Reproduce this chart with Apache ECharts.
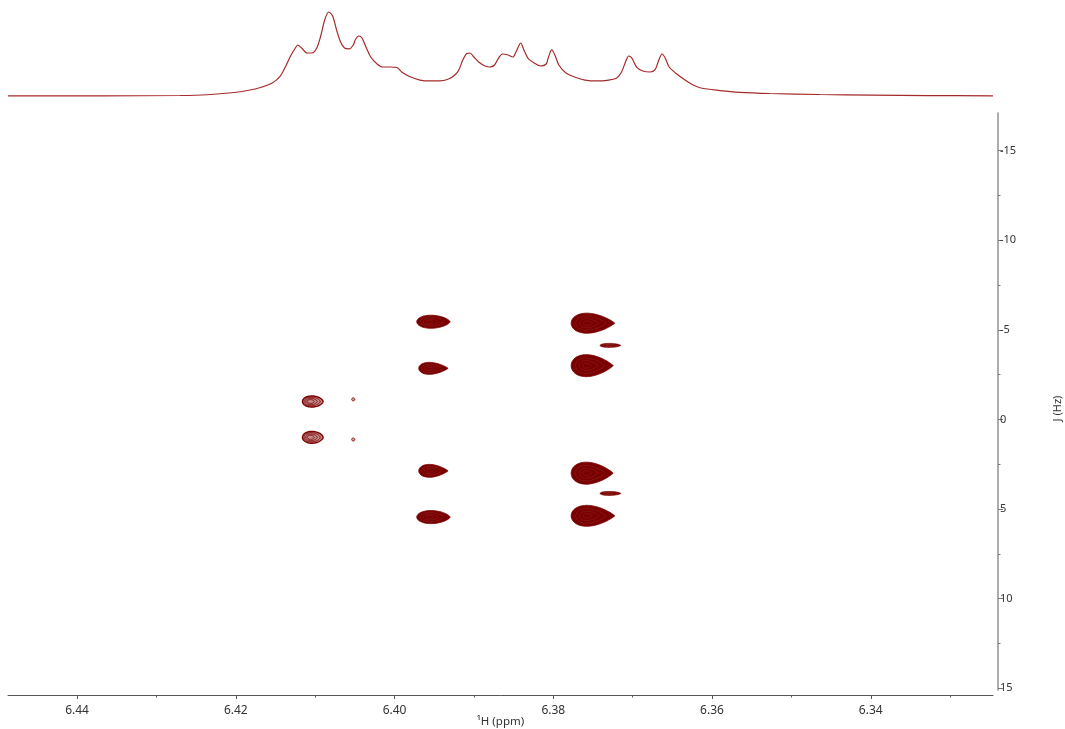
<!DOCTYPE html>
<html>
<head>
<meta charset="utf-8">
<title>J-resolved spectrum</title>
<script src="https://cdn.jsdelivr.net/npm/echarts@6/dist/echarts.min.js"></script>
<style>
  html, body { margin: 0; padding: 0; background: #ffffff; }
  #chart { width: 1065px; height: 729px; }
</style>
</head>
<body>
<div id="chart"></div>
<script>
// ---- 1D 1H trace shown above the 2D map (ppm, relative intensity) ----
const tracePpm = [
  6.4487, 6.4371, 6.4270, 6.4236, 6.4202, 6.4182, 6.4167, 6.4154, 6.4144, 6.4137,
  6.4131, 6.4125, 6.4122, 6.4117, 6.4110, 6.4104, 6.4098, 6.4093, 6.4088, 6.4083,
  6.4078, 6.4073, 6.4068, 6.4063, 6.4057, 6.4052, 6.4049, 6.4045, 6.4041, 6.4036,
  6.4030, 6.4022, 6.4015, 6.4005, 6.3997, 6.3991, 6.3981, 6.3968, 6.3955, 6.3943,
  6.3932, 6.3924, 6.3919, 6.3914, 6.3909, 6.3905, 6.3900, 6.3894, 6.3886, 6.3880,
  6.3874, 6.3869, 6.3864, 6.3857, 6.3851, 6.3847, 6.3843, 6.3841, 6.3837, 6.3832,
  6.3824, 6.3816, 6.3809, 6.3806, 6.3802, 6.3798, 6.3793, 6.3784, 6.3773, 6.3760,
  6.3745, 6.3730, 6.3720, 6.3714, 6.3709, 6.3705, 6.3701, 6.3695, 6.3687, 6.3678,
  6.3672, 6.3667, 6.3663, 6.3659, 6.3654, 6.3646, 6.3634, 6.3625, 6.3614, 6.3590,
  6.3565, 6.3527, 6.3464, 6.3399, 6.3326, 6.3246
];
const traceIntensity = [
  0.2, 0.2, 0.6, 1.5, 4.2, 7.1, 10.7, 15.5, 23.8, 35.7,
  47.6, 57.1, 60.7, 57.1, 51.2, 51.2, 57.1, 71.4, 90.5, 100,
  95.2, 78.6, 64.3, 57.1, 56.0, 60.7, 67.9, 71.4, 69.0, 58.3,
  46.4, 38.1, 34.5, 34.5, 33.9, 28.6, 23.2, 19.0, 17.9, 17.9,
  20.2, 25.0, 31.0, 42.9, 50.6, 51.2, 46.4, 40.5, 35.7, 34.5,
  36.9, 45.2, 50.0, 48.8, 46.4, 52.4, 60.7, 63.1, 54.8, 45.2,
  39.3, 35.7, 38.1, 46.4, 54.8, 48.8, 36.9, 27.4, 22.6, 19.0,
  17.9, 19.0, 21.4, 28.6, 40.5, 47.6, 45.2, 34.5, 29.8, 28.6,
  31.0, 42.9, 50.0, 45.2, 34.5, 27.4, 19.0, 13.7, 9.5, 6.5,
  4.4, 3.0, 1.8, 1.0, 0.5, 0.2
];

// ---- 2D J-resolved cross peaks ----
// centre shift (ppm), J (Hz), width (ppm), height (Hz), tail sharpness, contour style
const peakPpm    = [6.4103, 6.4103, 6.4052, 6.4052, 6.3951, 6.3951, 6.3951, 6.3951, 6.3750, 6.3751, 6.3751, 6.3750, 6.3728, 6.3728];
const peakJ      = [-1.0,   1.0,    -1.12,  1.12,   -5.45,  -2.85,  2.87,   5.45,   -5.37,  -3.0,   3.0,    5.38,   -4.13,  4.13];
const peakWidth  = [0.0026, 0.0026, 0.0004, 0.0004, 0.0042, 0.0037, 0.0037, 0.0042, 0.0055, 0.0053, 0.0053, 0.0055, 0.0026, 0.0026];
const peakHeight = [0.62,   0.66,   0.17,   0.17,   0.73,   0.67,   0.72,   0.73,   1.12,   1.23,   1.23,   1.17,   0.22,   0.22];
const peakTip    = [0.2,    0.2,    0,      0,      0.35,   0.8,    0.8,    0.35,   0.8,    0.8,    0.8,    0.8,    0.3,    0.3];
const peakStyle  = ['ring', 'ring', 'dot',  'dot',  'solid','solid','solid','solid','solid','solid','solid','solid','solid','solid'];

// ---- axis ticks ----
const shiftTicks = [6.44, 6.42, 6.40, 6.38, 6.36, 6.34];
const shiftMinorTicks = [6.43, 6.41, 6.39, 6.37, 6.35, 6.33];
const jTicks = [-15, -10, -5, 0, 5, 10, 15];
const jMinorTicks = [-12.5, -7.5, -2.5, 2.5, 7.5, 12.5];

const SHIFT_MIN = 6.3246, SHIFT_MAX = 6.4487;
const J_MIN = -17.1, J_MAX = 15.1;
const PEAK_COLOR = '#7a0000';
const FONT = 'Noto Sans';

const traceData = tracePpm.map((p, i) => [p, traceIntensity[i]]);
const peakData = peakPpm.map((p, i) => [p, peakJ[i], peakWidth[i], peakHeight[i], peakTip[i], i]);

// teardrop outline: round on the high-field side of the centre, tapering to the right
function dropOutline(cx, cy, a, b, m, n) {
  let norm = 0;
  for (let k = 0; k <= 200; k++) {
    const t = Math.PI * k / 200;
    norm = Math.max(norm, Math.sin(t) * Math.pow(Math.sin(t / 2), m));
  }
  const pts = [];
  for (let k = 0; k < n; k++) {
    const t = 2 * Math.PI * k / n;
    pts.push([
      cx + a * Math.cos(t),
      cy - (b / norm) * Math.sin(t) * Math.pow(Math.sin(t / 2), m)
    ]);
  }
  return pts;
}

function shrink(pts, fx, fy, s) {
  return pts.map(p => [fx + (p[0] - fx) * s, fy + (p[1] - fy) * s]);
}

function renderPeak(params, api) {
  const c = api.coord([api.value(0), api.value(1)]);
  const sz = api.size([api.value(2), api.value(3)]);
  const a = Math.max(Math.abs(sz[0]) / 2, 1.3);
  const b = Math.max(Math.abs(sz[1]) / 2, 1.3);
  const m = api.value(4);
  const style = peakStyle[api.value(5)];
  const outer = dropOutline(c[0], c[1], a, b, m, 64);
  const fx = c[0] - a * 0.3, fy = c[1];
  const children = [];
  if (style === 'ring') {
    children.push({
      type: 'polygon', shape: { points: outer },
      style: { fill: 'rgba(122,0,0,0.45)', stroke: PEAK_COLOR, lineWidth: 1.4 }
    });
    [0.78, 0.56, 0.34].forEach(s => children.push({
      type: 'polygon', shape: { points: shrink(outer, fx, fy, s) },
      style: { fill: 'none', stroke: PEAK_COLOR, lineWidth: 0.9 }
    }));
  } else if (style === 'dot') {
    children.push({
      type: 'polygon', shape: { points: outer },
      style: { fill: 'rgba(122,0,0,0.35)', stroke: PEAK_COLOR, lineWidth: 0.9 }
    });
  } else {
    children.push({
      type: 'polygon', shape: { points: outer },
      style: { fill: PEAK_COLOR, stroke: PEAK_COLOR, lineWidth: 0.8 }
    });
    if (a > 6) {
      [0.7, 0.45, 0.22].forEach(s => children.push({
        type: 'polygon', shape: { points: shrink(outer, fx, fy, s) },
        style: { fill: 'none', stroke: 'rgba(255,255,255,0.13)', lineWidth: 0.6 }
      }));
    }
  }
  return { type: 'group', children };
}

const chart = echarts.init(document.getElementById('chart'), null, { renderer: 'canvas' });

const labelStyle = { color: '#333', fontFamily: FONT };

chart.setOption({
  animation: false,
  backgroundColor: '#ffffff',
  grid: [
    { left: 8, right: 72, top: 113, bottom: 39, containLabel: false, outerBoundsMode: 'none' },
    { left: 8, right: 72, top: 12, bottom: 633, containLabel: false, outerBoundsMode: 'none' }
  ],
  xAxis: [
    {
      type: 'value', gridIndex: 0, min: SHIFT_MIN, max: SHIFT_MAX, inverse: true,
      position: 'bottom', offset: 5,
      name: '¹H (ppm)', nameLocation: 'middle', nameGap: 21, nameMoveOverlap: false,
      nameTextStyle: { color: '#333', fontFamily: FONT, fontSize: 11.5 },
      axisLine: { show: true, onZero: false, lineStyle: { color: '#555', width: 1 } },
      axisTick: { show: true, length: 4, customValues: shiftTicks, lineStyle: { color: '#555' } },
      axisLabel: {
        show: true, customValues: shiftTicks, margin: 10, fontSize: 12, ...labelStyle,
        formatter: v => v.toFixed(2)
      },
      splitLine: { show: false }
    },
    {
      type: 'value', gridIndex: 0, min: SHIFT_MIN, max: SHIFT_MAX, inverse: true,
      position: 'bottom', offset: 5,
      axisLine: { show: false, onZero: false },
      axisTick: { show: true, length: 2.5, customValues: shiftMinorTicks, lineStyle: { color: '#555' } },
      axisLabel: { show: false },
      splitLine: { show: false }
    },
    {
      type: 'value', gridIndex: 1, min: SHIFT_MIN, max: SHIFT_MAX, inverse: true,
      show: false, splitLine: { show: false }
    }
  ],
  yAxis: [
    {
      type: 'value', gridIndex: 0, min: J_MIN, max: J_MAX, inverse: true,
      position: 'right', offset: 5,
      name: 'J (Hz)', nameLocation: 'middle', nameRotate: 90, nameGap: 54, nameMoveOverlap: false,
      nameTextStyle: { color: '#333', fontFamily: FONT, fontSize: 11, padding: [0, 14, 0, 0] },
      axisLine: { show: true, onZero: false, lineStyle: { color: '#999', width: 1.6 } },
      axisTick: { show: true, length: 5, customValues: jTicks, lineStyle: { color: '#777' } },
      axisLabel: { show: true, customValues: jTicks, margin: 2, fontSize: 11, ...labelStyle },
      splitLine: { show: false }
    },
    {
      type: 'value', gridIndex: 0, min: J_MIN, max: J_MAX, inverse: true,
      position: 'right', offset: 5,
      axisLine: { show: false, onZero: false },
      axisTick: { show: true, length: 2.5, customValues: jMinorTicks, lineStyle: { color: '#777' } },
      axisLabel: { show: false },
      splitLine: { show: false }
    },
    {
      type: 'value', gridIndex: 1, min: 0, max: 100, show: false, splitLine: { show: false }
    }
  ],
  series: [
    {
      type: 'custom', xAxisIndex: 0, yAxisIndex: 0,
      data: peakData, renderItem: renderPeak, clip: true, silent: true
    },
    {
      type: 'line', xAxisIndex: 2, yAxisIndex: 2,
      data: traceData, showSymbol: false, smooth: 0.3, clip: false,
      lineStyle: { color: '#a52a2a', width: 1.2 }, silent: true
    }
  ]
});
</script>
</body>
</html>
